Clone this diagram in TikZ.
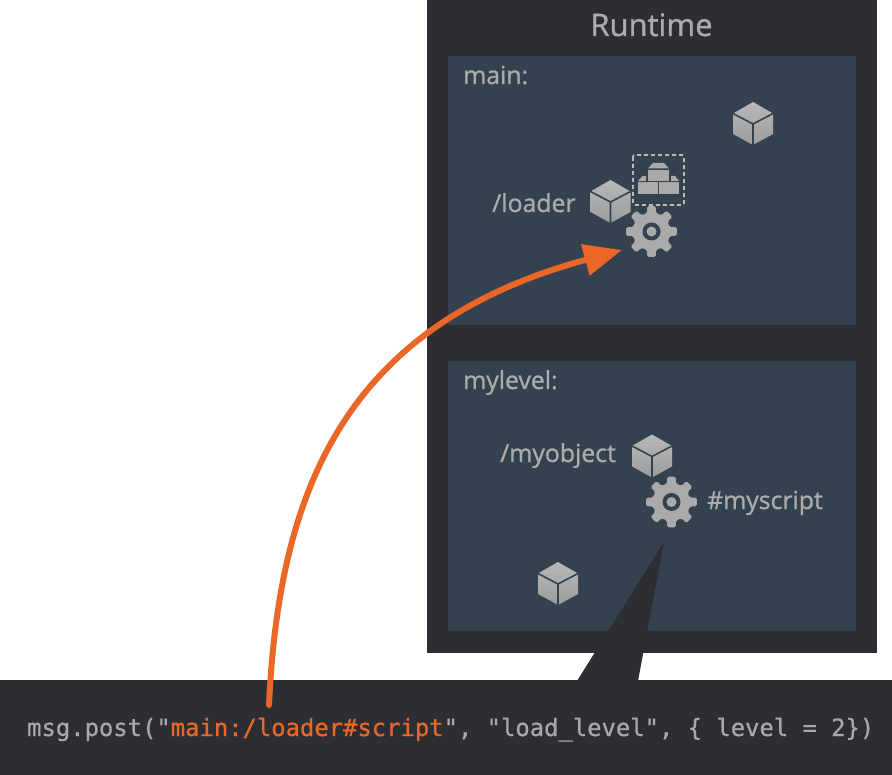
\documentclass[tikz,border=0pt]{standalone}
\usepackage{fontspec}
\newfontfamily\semifont{Open Sans}[FakeBold=1.0]
\newfontfamily\codefont{DejaVu Sans Mono}[FakeBold=0.7]
\usetikzlibrary{arrows.meta}
\definecolor{frameC}{HTML}{2D2E33}
\definecolor{panelC}{HTML}{344250}
\definecolor{textC}{HTML}{ABABAB}
\definecolor{codeC}{HTML}{A8A8A8}
\definecolor{orangeC}{HTML}{EB6727}
\definecolor{iconTop}{HTML}{B8B8B8}
\definecolor{iconBot}{HTML}{9C9C9C}
\tikzset{
  x=1pt,y=-1pt,
  frame/.style={fill=frameC,draw=none,inner sep=0pt,outer sep=0pt,anchor=north west},
  panel/.style={fill=panelC,draw=none,inner sep=0pt,outer sep=0pt,anchor=north west,minimum width=408pt},
  label/.style={text=textC,font=\semifont\fontsize{24.8}{28}\selectfont,anchor=base west,inner sep=0pt},
  code/.style={text=codeC,font=\codefont\fontsize{23.85}{28}\selectfont,anchor=base west,inner sep=0pt},
  cubeicon/.pic={
    \shade[top color=iconTop,bottom color=iconBot] (0,-21.5) -- (20,-10) -- (20,10.5) -- (0,21.5) -- (-20,10.5) -- (-20,-10) -- cycle;
    \draw[panelC,line width=1.6pt] (-20,-10) -- (0,0.5) -- (20,-10) (0,0.5) -- (0,21.5);
  },
  gearicon/.pic={
    \fill[iconTop!50!iconBot,rounded corners=1.6pt] (-13.5:18.5)
      \foreach \a in {0,45,...,315} { -- (\a-13.5:19) -- (\a-9.5:25.8) -- (\a+9.5:25.8) -- (\a+13.5:19) } -- cycle;
    \fill[panelC] (0,0) circle[radius=9];
    \fill[iconTop!50!iconBot] (0,0) circle[radius=5];
  },
  brickfill/.style={fill=iconTop!50!iconBot},
}
\begin{document}
\begin{tikzpicture}
\useasboundingbox (0,0) rectangle (892,775);
% frame and panels
\node[frame,minimum width=450pt,minimum height=653pt] (runtime) at (427,0) {};
\node[panel,minimum height=269pt] (mainpanel) at (448,56) {};
\node[panel,minimum height=270pt] (levelpanel) at (448,361) {};
% code bar and callout
\node[frame,minimum width=892pt,minimum height=95pt] (codebar) at (0,680) {};
\coordinate (callout) at (664,542);
\fill[frameC] (callout) -- (638,681) -- (577,681) -- cycle;
% titles and labels
\node[text=textC,font=\semifont\fontsize{31}{34}\selectfont,anchor=base,inner sep=0pt] (title) at (651.5,36) {Runtime};
\node[label] (mainlabel) at (463,84) {main:};
\node[label] (levellabel) at (463,389) {mylevel:};
\node[label] (loader) at (492,212) {/loader};
\node[label] (myobject) at (500,462) {/myobject};
\node[label] (myscript) at (707,509) {\#myscript};
% icons
\pic at (753,123.5) {cubeicon};
\pic at (610.5,201.5) {cubeicon};
\pic at (652,456) {cubeicon};
\pic at (558,583.5) {cubeicon};
\pic at (651.5,231.5) {gearicon};
\pic at (671.5,502) {gearicon};
% bricks
\draw[iconTop,line width=1.9pt,dash pattern=on 4pt off 3pt,rounded corners=2pt] (633,155) rectangle (684,205);
\fill[brickfill] (638,182) rectangle (658,194);
\fill[brickfill] (659,182) rectangle (679,194);
\fill[brickfill] (648,170) rectangle (669,181);
\fill[brickfill] (648,168.5) -- (669,168.5) -- (664,163) -- (653,163) -- cycle;
\fill[brickfill] (638,181) -- (646,181) -- (646,176) -- (642.5,176) -- cycle;
\fill[brickfill] (671,181) -- (679,181) -- (675,176) -- (671,176) -- cycle;
% code
\node[code] (codeline) at (27,736) {msg.post("\textcolor{orangeC}{main:/loader\#script}", "load\_level", \{ level = 2\})};
% arrow
\coordinate (arrowstart) at (269,705);
\coordinate (arrowend) at (622,250);
\draw[orangeC,line width=6pt,line cap=round,-{Triangle[length=38pt,width=31pt]}]
  (arrowstart) .. controls (279,490) and (345,325) .. (arrowend);
\end{tikzpicture}
\end{document}
